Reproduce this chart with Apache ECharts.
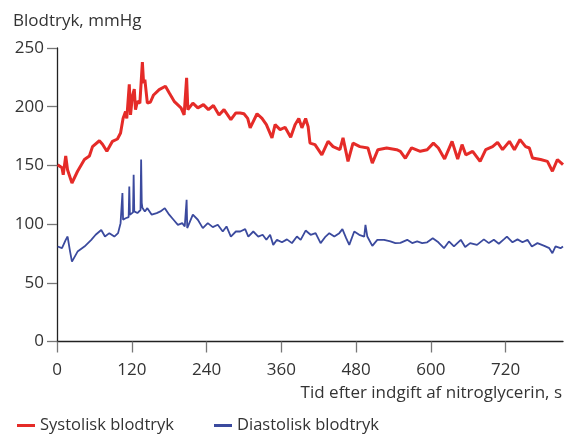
<!DOCTYPE html>
<html><head><meta charset="utf-8">
<script src="https://cdn.jsdelivr.net/npm/echarts@6/dist/echarts.min.js"></script>
<style>html,body{margin:0;padding:0;background:#fff}#c{width:566px;height:434px}</style>
</head><body><div id="c"></div>
<script>
const xTicks = [0, 120, 240, 360, 480, 600, 720];
const yTicks = [0, 50, 100, 150, 200, 250];

const sysT = [1,8,10,14,17,24,33,44,52,57,68,73,80,89,97,102,106,110,112,116,118,121,124,126,129,133,137,139,141,145,150,155,164,174,180,188,199,204,208,210,218,226,235,243,251,260,268,279,287,294,300,306,310,321,329,336,345,350,358,366,375,382,388,393,399,403,406,414,425,435,443,454,459,467,475,486,499,506,515,529,545,551,559,569,583,594,604,612,622,634,643,650,656,667,679,688,699,707,715,726,734,743,752,758,763,776,787,795,803,812];
const sysV = [150.6,148,142,158,146,135,145,155,158,166,171,168,162,170.5,172.5,177.6,190,196,190,219,193,209,215,197.5,204.6,203,238,220,223,203,204,210,214.6,217.4,211.8,204.6,199,193,224.6,197.5,203,199,201.8,197.5,201,193,197.5,189,194.7,194.7,194,190,182,194,190,184.7,173.4,184.7,180.5,182.5,174,184.7,190,182,190,183,169,167.7,159,170.5,166,163.4,173.4,153.4,169,166,164.8,152,163.4,164.8,163.4,162,156,165,162,163.4,169,164.8,155.5,170.5,155.5,167.7,159,162,153.4,163.4,166,169.6,163.4,170.5,163.4,172,166,164.8,156.3,155,153.4,145,155,150.6];

const diaT = [1,8,14,17,21,24,33,44,55,62,71,77,84,92,98,102,104,105,106,110,115,116,117,122,123,124,126,129,134,135,136,137,141,145,152,160,166,173,180,187,194,201,205,207,208,209,210,218,226,234,242,250,258,266,272,279,287,294,302,307,315,323,330,336,342,347,353,361,369,377,385,391,399,407,415,423,431,437,445,453,458,464,469,477,485,493,495,498,506,514,525,535,543,551,562,570,578,586,594,603,612,621,629,637,648,655,663,674,685,693,701,709,717,722,731,739,747,755,762,771,782,790,795,800,808,812];
const diaV = [80.9,79.5,86.6,89.4,76.6,68,76.6,80.9,86.6,90.9,95,89.4,92.3,89.4,92.3,100.8,101,126.4,103.7,105,106,132,108,110,142,110.8,110.8,109.4,112,155,118,114,110.8,113.6,108,109.4,110.8,113.6,108,103.7,99.4,100.8,98,99,120.7,96.6,97,108,103.7,96.6,100.8,97.4,99.4,93.7,98,89.4,93.7,93.7,95.7,89.4,93.7,89.4,90.9,86.6,90.9,82.3,86.6,84.5,87,83.8,89.4,86.6,94.5,90.9,92.3,83.8,89.4,92.3,89.4,92.3,95.7,88,82.3,93.7,90.9,89.4,99.4,89.4,81.5,86.6,86.6,85.2,83.8,84,86.6,83.8,85.2,83.8,84.5,88,84.5,79.5,85.2,81,86.6,80.5,83.8,82.3,87,83.8,86.6,83.3,87,89.4,84.5,87,84.5,86.6,81,83.8,81.5,79.5,75.2,81,79.5,81];

const pair = (ts, vs) => ts.map((t, i) => [t, vs[i]]);
const FONT = 'Open Sans';
const chart = echarts.init(document.getElementById('c'), null, {renderer: 'canvas'});
chart.setOption({
  animation: false,
  backgroundColor: '#fff',
  textStyle: {fontFamily: FONT},
  grid: {left: 57, right: 3, top: 48, bottom: 92.5, containLabel: false},
  title: {text: 'Blodtryk, mmHg', left: 8, top: 8,
    textStyle: {fontFamily: FONT, fontSize: 17, fontWeight: 'normal', color: '#333'}},
  legend: [
    {left: 12, top: 412, itemWidth: 18, itemHeight: 3, icon: 'rect', data: ['Systolisk blodtryk'],
      textStyle: {fontFamily: FONT, fontSize: 16.5, color: '#333'}},
    {left: 209, top: 412, itemWidth: 18, itemHeight: 3, icon: 'rect', data: ['Diastolisk blodtryk'],
      textStyle: {fontFamily: FONT, fontSize: 16.5, color: '#333'}}
  ],
  graphic: [{type: 'text', right: 4, top: 385,
    style: {text: 'Tid efter indgift af nitroglycerin, s', fontFamily: FONT, fontSize: 17, fill: '#333'}}],
  xAxis: {type: 'value', min: 0, max: 812, interval: 120,
    axisLine: {lineStyle: {color: '#222', width: 1.3}},
    axisTick: {length: 11, lineStyle: {color: '#777', width: 1.3}, customValues: xTicks},
    axisLabel: {margin: 20, fontFamily: FONT, fontSize: 17, color: '#333', customValues: xTicks},
    splitLine: {show: false}},
  yAxis: {type: 'value', min: 0, max: 250, interval: 50,
    axisLine: {show: true, lineStyle: {color: '#222', width: 1.3}},
    axisTick: {show: true, length: 10, lineStyle: {color: '#777', width: 1.3}, customValues: yTicks},
    axisLabel: {margin: 13, fontFamily: FONT, fontSize: 17, color: '#333', customValues: yTicks},
    splitLine: {show: false}},
  series: [
    {name: 'Systolisk blodtryk', type: 'line', data: pair(sysT, sysV), showSymbol: false,
      color: '#e52b28', lineStyle: {width: 3, color: '#e52b28'}},
    {name: 'Diastolisk blodtryk', type: 'line', data: pair(diaT, diaV), showSymbol: false,
      color: '#3b4a9e', lineStyle: {width: 1.8, color: '#3b4a9e'}}
  ]
});
</script></body></html>
